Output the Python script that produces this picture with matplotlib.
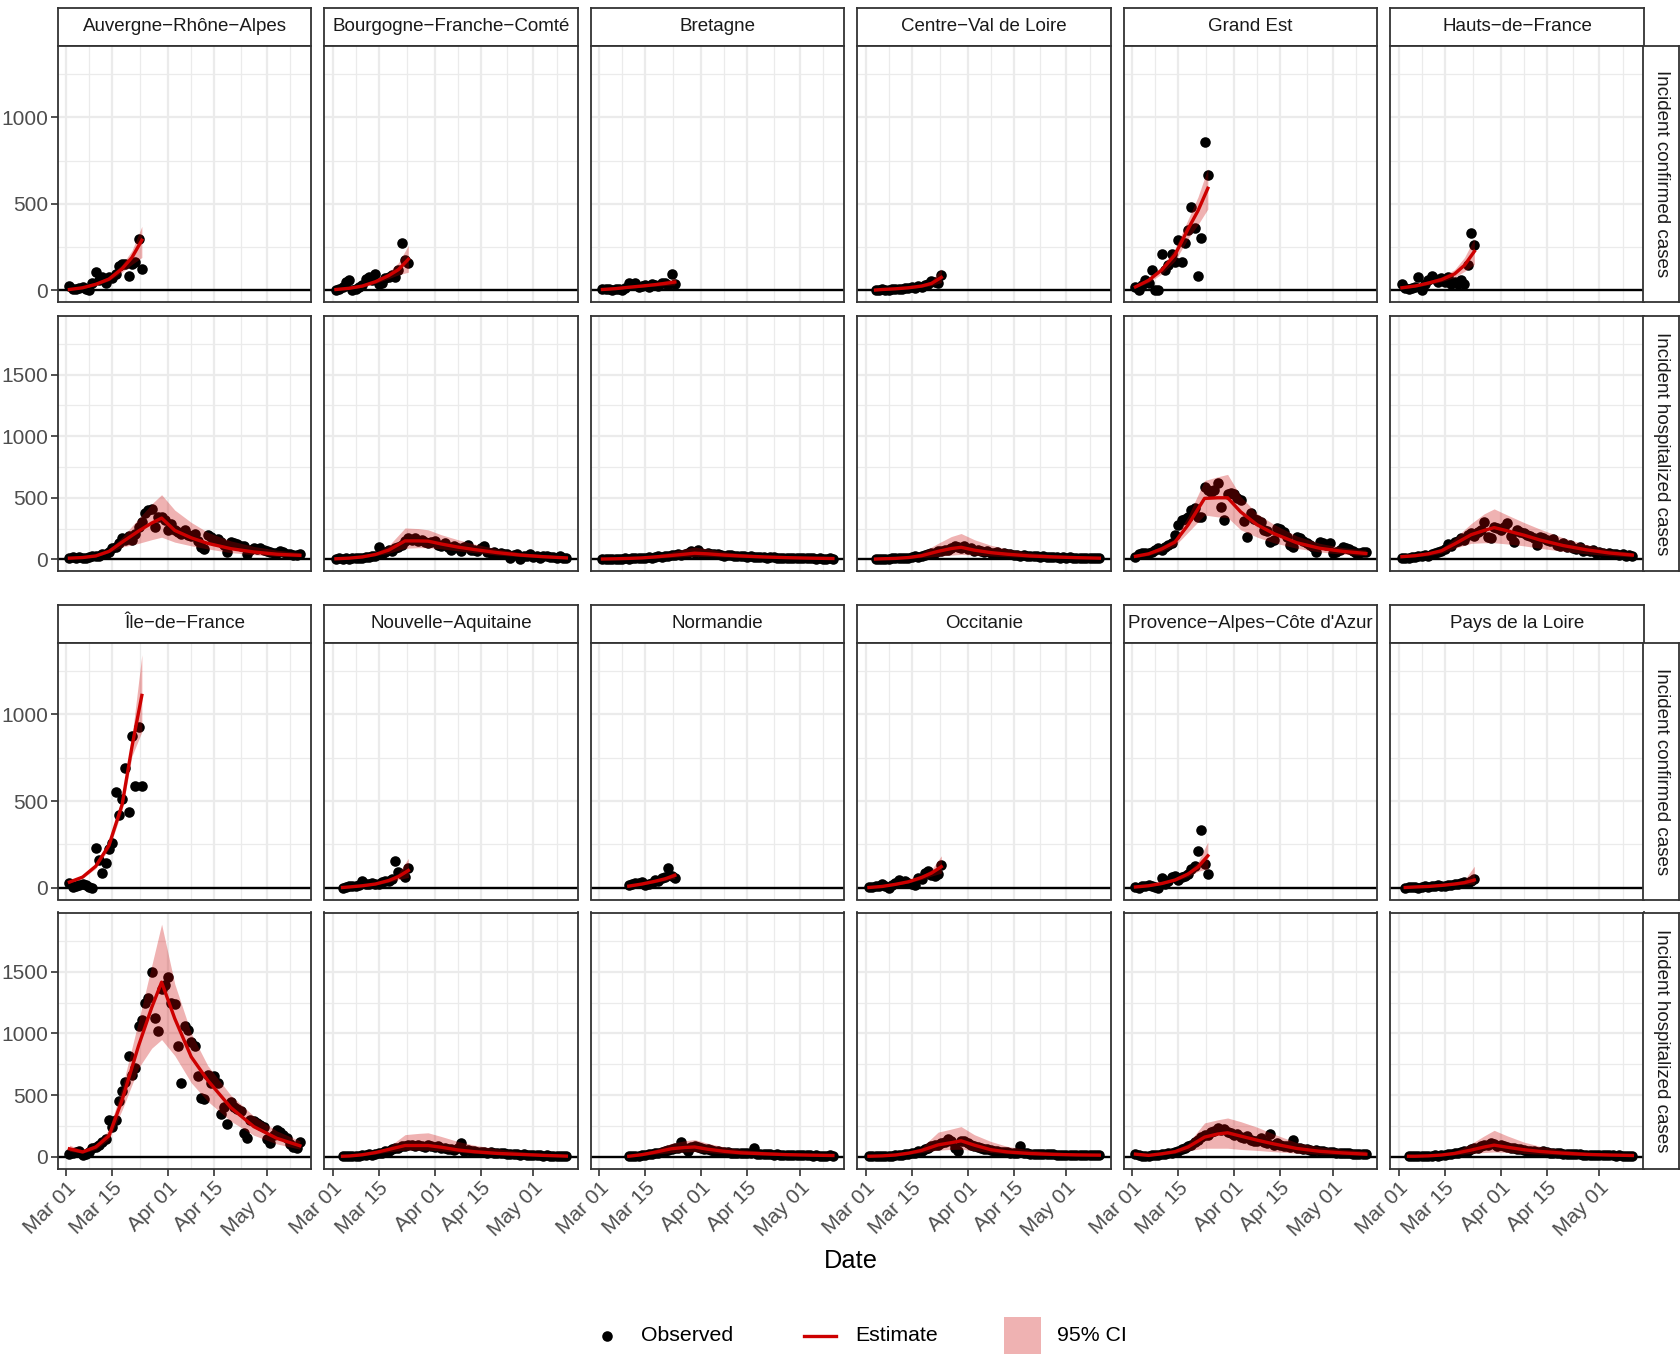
import numpy as np
import matplotlib
matplotlib.use("Agg")
import matplotlib.pyplot as plt
import matplotlib.dates as mdates
from matplotlib.patches import Rectangle
from matplotlib.lines import Line2D

plt.rcParams['font.family'] = ['Liberation Sans', 'DejaVu Sans']

# ---------------------------------------------------------------- data
ORIGIN = '2020-03-01'                      # day 0 of the day offsets below
CONF_KNOTS = [1, 5, 9, 13, 17, 20, 23]     # days of the confirmed-case estimate knots
HOSP_KNOTS = [1, 5, 9, 13, 17, 22, 26, 29, 33, 38, 43, 50, 57, 64, 71]
X_TICKS = ['2020-03-01', '2020-03-15', '2020-04-01', '2020-04-15', '2020-05-01']
X_MINOR = ['2020-03-08', '2020-03-23T12:00', '2020-04-08', '2020-04-23', '2020-05-08']
CONF_YTICKS = [0, 500, 1000]
CONF_YMINOR = [250, 750, 1250]
HOSP_YTICKS = [0, 500, 1000, 1500]
HOSP_YMINOR = [250, 750, 1250, 1750]
ROW_LABELS = ['Incident confirmed cases', 'Incident hospitalized cases']
LEGEND_LABELS = ['Observed', 'Estimate', '95% CI']
X_TITLE = 'Date'

REGION_NAMES = ['Auvergne−Rhône−Alpes', 'Bourgogne−Franche−Comté', 'Bretagne',
                'Centre−Val de Loire', 'Grand Est', 'Hauts−de−France',
                'Île−de−France', 'Nouvelle−Aquitaine', 'Normandie',
                'Occitanie', "Provence−Alpes−Côte d'Azur", 'Pays de la Loire']

# --- Auvergne-Rhône-Alpes
ARA_CONF_START = 1
ARA_CONF = [25, 5, 10, 15, 22, 5, 0, 40, 106, 60, 80, 40, 75, 70, 92, 140, 150, 155, 85, 155, 165, 297, 125]
ARA_CONF_EST = [5, 15, 35, 65, 125, 190, 290]
ARA_CONF_LO = [2, 10, 28, 55, 105, 150, 190]
ARA_CONF_HI = [10, 22, 45, 80, 150, 230, 370]
ARA_HOSP_START = 1
ARA_HOSP = [15, 20, 12, 18, 10, 15, 20, 25, 30, 28,
            40, 45, 60, 95, 100, 130, 177, 160, 190, 155,
            210, 260, 305, 373, 400, 408, 264, 346, 346, 318,
            237, 291, 240, 223, 210, 237, 200, 188, 210, 150,
            101, 87, 196, 180, 160, 169, 140, 120, 60, 142,
            135, 128, 106, 110, 46, 80, 95, 87, 90, 79,
            70, 60, 55, 52, 68, 60, 46, 40, 33, 38, 41]
ARA_HOSP_EST = [10, 15, 28, 65, 140, 230, 295, 335, 235, 175, 130, 87, 60, 42, 33]
ARA_HOSP_LO = [5, 10, 20, 55, 100, 130, 160, 180, 140, 110, 85, 55, 38, 25, 20]
ARA_HOSP_HI = [15, 20, 35, 80, 180, 330, 450, 525, 400, 300, 220, 150, 105, 75, 55]

# --- Bourgogne-Franche-Comté
BFC_CONF_START = 1
BFC_CONF = [4, 5, 20, 48, 58, 0, 10, 20, 29, 68, 77, 58, 93, 39, 42, 70, 80, 90, 80, 120, 274, 175, 160]
BFC_CONF_EST = [5, 12, 25, 50, 85, 120, 180]
BFC_CONF_LO = [2, 8, 18, 40, 68, 90, 105]
BFC_CONF_HI = [10, 18, 32, 62, 105, 160, 260]
BFC_HOSP_START = 1
BFC_HOSP = [5, 8, 3, 10, 6, 12, 8, 15, 10, 18,
            20, 25, 30, 100, 45, 60, 80, 70, 95, 100,
            120, 150, 170, 160, 175, 150, 155, 140, 130, 145,
            150, 120, 110, 130, 100, 80, 110, 90, 70, 100,
            120, 80, 75, 70, 90, 106, 60, 55, 60, 40,
            50, 45, 40, 10, 35, 40, 0, 30, 25, 40,
            20, 30, 15, 30, 25, 20, 20, 15, 25, 10, 15]
BFC_HOSP_EST = [5, 10, 20, 40, 75, 150, 150, 148, 125, 100, 80, 55, 35, 22, 12]
BFC_HOSP_LO = [2, 5, 12, 30, 50, 90, 95, 95, 85, 70, 55, 35, 22, 12, 6]
BFC_HOSP_HI = [10, 15, 30, 55, 110, 255, 250, 240, 200, 160, 125, 85, 55, 38, 25]

# --- Bretagne
BRE_CONF_START = 1
BRE_CONF = [10, 8, 5, 0, 5, 8, 2, 15, 40, 30, 45, 20, 25, 30, 20, 35, 30, 25, 40, 45, 30, 92, 35]
BRE_CONF_EST = [5, 10, 18, 25, 33, 40, 48]
BRE_CONF_LO = [2, 6, 12, 18, 24, 28, 32]
BRE_CONF_HI = [10, 15, 25, 35, 45, 55, 70]
BRE_HOSP_START = 1
BRE_HOSP = [2, 5, 3, 4, 6, 5, 3, 8, 6, 10,
            8, 12, 10, 15, 18, 14, 22, 25, 20, 28,
            30, 35, 32, 40, 38, 45, 50, 70, 48, 75,
            52, 45, 50, 42, 40, 45, 35, 30, 38, 32,
            28, 30, 25, 28, 22, 25, 20, 18, 22, 20,
            15, 18, 16, 12, 15, 14, 10, 12, 15, 10,
            8, 12, 9, 10, 8, 6, 9, 7, 5, 8, 6]
BRE_HOSP_EST = [3, 5, 8, 12, 20, 32, 42, 50, 45, 35, 28, 20, 14, 10, 7]
BRE_HOSP_LO = [1, 2, 4, 7, 10, 16, 22, 26, 24, 19, 15, 10, 7, 5, 3]
BRE_HOSP_HI = [6, 8, 12, 18, 35, 60, 85, 100, 85, 62, 48, 32, 22, 16, 12]

# --- Centre-Val de Loire
CVL_CONF_START = 3
CVL_CONF = [0, 2, 5, 0, 3, 5, 8, 10, 10, 12, 15, 20, 15, 25, 20, 30, 35, 55, 50, 40, 87]
CVL_CONF_EST = [2, 5, 9, 15, 25, 40, 75]
CVL_CONF_LO = [0, 2, 5, 10, 18, 28, 45]
CVL_CONF_HI = [4, 8, 13, 22, 35, 55, 125]
CVL_HOSP_START = 3
CVL_HOSP = [2, 4, 3, 6, 5, 8, 10, 8,
            12, 15, 14, 20, 25, 22, 30, 35, 40, 50,
            55, 70, 65, 80, 75, 95, 110, 100, 90, 105,
            85, 95, 70, 80, 65, 60, 70, 55, 50, 60,
            45, 50, 40, 42, 35, 38, 30, 35, 28, 30,
            25, 28, 22, 25, 20, 22, 18, 20, 15, 18,
            15, 16, 12, 14, 12, 10, 13, 10, 12, 9, 10]
CVL_HOSP_EST = [3, 5, 8, 15, 30, 65, 88, 98, 75, 55, 42, 28, 20, 14, 10]
CVL_HOSP_LO = [1, 2, 4, 8, 15, 25, 35, 40, 35, 28, 22, 15, 10, 7, 5]
CVL_HOSP_HI = [6, 8, 14, 25, 55, 130, 185, 210, 160, 115, 85, 55, 38, 28, 20]

# --- Grand Est
GES_CONF_START = 1
GES_CONF = [19, 0, 30, 62, 40, 116, 0, 0, 212, 120, 145, 212, 164, 293, 164, 274, 347, 479, 363, 81, 305, 859, 666]
GES_CONF_EST = [20, 58, 118, 205, 355, 460, 590]
GES_CONF_LO = [15, 45, 95, 170, 300, 380, 470]
GES_CONF_HI = [28, 72, 140, 240, 410, 540, 705]
GES_HOSP_START = 1
GES_HOSP = [22, 40, 49, 54, 49, 60, 75, 89, 80, 97,
            120, 135, 197, 278, 319, 330, 346, 400, 414, 346,
            346, 589, 562, 549, 562, 616, 427, 319, 530, 535,
            530, 500, 481, 314, 184, 378, 324, 319, 300, 238,
            230, 143, 157, 251, 243, 224, 184, 116, 103, 184,
            170, 151, 135, 120, 103, 62, 143, 130, 120, 130,
            49, 62, 80, 103, 89, 81, 70, 49, 55, 62, 62]
GES_HOSP_EST = [25, 45, 85, 140, 280, 495, 500, 500, 385, 280, 210, 135, 90, 65, 48]
GES_HOSP_LO = [15, 32, 65, 110, 220, 360, 345, 340, 240, 180, 135, 90, 60, 42, 30]
GES_HOSP_HI = [35, 60, 110, 170, 350, 640, 670, 690, 510, 370, 285, 190, 130, 95, 75]

# --- Hauts-de-France
HDF_CONF_START = 1
HDF_CONF = [35, 15, 10, 12, 20, 77, 0, 39, 58, 85, 68, 48, 73, 48, 77, 35, 48, 35, 58, 35, 145, 334, 260]
HDF_CONF_EST = [15, 25, 42, 62, 95, 145, 225]
HDF_CONF_LO = [10, 18, 32, 50, 75, 110, 150]
HDF_CONF_HI = [20, 32, 55, 78, 120, 190, 300]
HDF_HOSP_START = 1
HDF_HOSP = [13, 13, 15, 22, 20, 25, 30, 35, 28, 45,
            50, 60, 70, 85, 124, 110, 140, 151, 170, 160,
            197, 216, 189, 220, 240, 305, 178, 170, 265, 251,
            240, 260, 292, 189, 143, 238, 224, 211, 200, 190,
            170, 116, 184, 175, 160, 150, 165, 120, 110, 130,
            100, 115, 95, 85, 100, 70, 80, 65, 75, 55,
            60, 50, 45, 55, 40, 45, 35, 40, 25, 35, 30]
HDF_HOSP_EST = [22, 30, 45, 70, 125, 200, 235, 258, 232, 197, 157, 112, 78, 52, 35]
HDF_HOSP_LO = [15, 20, 30, 50, 90, 130, 135, 135, 125, 110, 90, 65, 45, 30, 20]
HDF_HOSP_HI = [30, 38, 55, 90, 170, 290, 370, 410, 360, 300, 245, 175, 120, 80, 55]

# --- Île-de-France
IDF_CONF_START = 1
IDF_CONF = [27, 4, 10, 15, 23, 14, 4, 0, 232, 162, 85, 143, 226, 259, 554, 419, 515, 689, 436, 876, 587, 927, 587]
IDF_CONF_EST = [33, 62, 125, 245, 480, 815, 1110]
IDF_CONF_LO = [28, 55, 112, 225, 445, 760, 900]
IDF_CONF_HI = [38, 70, 138, 265, 515, 870, 1345]
IDF_HOSP_START = 1
IDF_HOSP = [27, 30, 40, 49, 14, 27, 40, 68, 81, 95,
            122, 141, 298, 244, 298, 456, 537, 610, 819, 664,
            719, 1058, 1112, 1248, 1288, 1497, 1126, 1017, 1356, 1389,
            1459, 1248, 1242, 900, 602, 1063, 1025, 928, 895, 651,
            475, 467, 664, 602, 656, 602, 347, 400, 266, 448,
            407, 385, 374, 190, 149, 298, 293, 271, 258, 240,
            141, 114, 176, 217, 203, 176, 150, 108, 81, 68, 122]
IDF_HOSP_EST = [65, 40, 80, 170, 460, 900, 1210, 1415, 1120, 810, 620, 400, 245, 150, 90]
IDF_HOSP_LO = [45, 30, 60, 140, 380, 720, 880, 950, 820, 600, 450, 290, 175, 105, 62]
IDF_HOSP_HI = [95, 55, 100, 220, 560, 1100, 1550, 1885, 1400, 1000, 740, 500, 330, 210, 130]

# --- Nouvelle-Aquitaine
NAQ_CONF_START = 3
NAQ_CONF = [0, 5, 8, 8, 10, 15, 42, 23, 25, 27, 20, 23, 33, 42, 40, 52, 154, 91, 80, 62, 112]
NAQ_CONF_EST = [2, 5, 12, 22, 42, 65, 100]
NAQ_CONF_LO = [0, 2, 8, 16, 32, 48, 60]
NAQ_CONF_HI = [4, 8, 16, 28, 52, 85, 170]
NAQ_HOSP_START = 3
NAQ_HOSP = [3, 5, 4, 6, 8, 10, 15, 12,
            20, 18, 25, 30, 35, 45, 50, 60, 70, 75,
            85, 90, 100, 95, 85, 100, 90, 80, 95, 85,
            80, 90, 70, 75, 65, 60, 55, 70, 113, 50,
            55, 45, 48, 40, 42, 38, 35, 40, 30, 32,
            28, 30, 25, 22, 25, 20, 18, 20, 15, 18,
            14, 15, 12, 10, 12, 9, 10, 8, 9, 7, 6]
NAQ_HOSP_EST = [5, 7, 17, 35, 60, 92, 92, 92, 78, 56, 42, 28, 20, 12, 6]
NAQ_HOSP_LO = [2, 3, 10, 22, 40, 55, 55, 55, 48, 38, 28, 18, 12, 7, 4]
NAQ_HOSP_HI = [8, 10, 22, 40, 80, 180, 190, 195, 165, 125, 95, 65, 42, 28, 18]

# --- Normandie
NOR_CONF_START = 9
NOR_CONF = [19, 23, 29, 27, 35, 19, 23, 30, 48, 40, 54, 60, 116, 68, 54]
NOR_CONF_EST = [10, 10, 10, 22, 38, 52, 72]
NOR_CONF_LO = [6, 6, 6, 16, 30, 42, 55]
NOR_CONF_HI = [14, 14, 14, 28, 46, 62, 92]
NOR_HOSP_START = 9
NOR_HOSP = [5, 6,
            8, 10, 12, 15, 20, 22, 30, 35, 42, 50,
            55, 62, 70, 75, 122, 68, 49, 80, 85, 78,
            70, 65, 60, 58, 50, 45, 42, 40, 38, 35,
            33, 30, 32, 28, 30, 35, 68, 25, 22, 24,
            20, 22, 18, 20, 16, 18, 15, 17, 14, 15,
            13, 14, 12, 13, 11, 12, 10, 11, 10, 12, 9]
NOR_HOSP_EST = [5, 5, 5, 18, 38, 66, 76, 80, 62, 45, 33, 25, 18, 14, 11]
NOR_HOSP_LO = [2, 2, 2, 10, 22, 35, 40, 42, 35, 26, 20, 14, 10, 7, 5]
NOR_HOSP_HI = [8, 8, 8, 28, 60, 110, 130, 140, 110, 80, 60, 45, 32, 24, 18]

# --- Occitanie
OCC_CONF_START = 1
OCC_CONF = [4, 4, 8, 10, 23, 12, 0, 15, 29, 48, 35, 42, 30, 23, 15, 58, 50, 87, 100, 75, 68, 77, 130]
OCC_CONF_EST = [2, 8, 20, 35, 60, 85, 122]
OCC_CONF_LO = [0, 5, 15, 28, 48, 68, 85]
OCC_CONF_HI = [4, 12, 25, 42, 72, 105, 185]
OCC_HOSP_START = 1
OCC_HOSP = [3, 5, 4, 6, 5, 8, 7, 10, 12, 15,
            18, 20, 25, 30, 35, 45, 50, 60, 70, 85,
            95, 100, 110, 120, 141, 130, 68, 49, 125, 130,
            110, 100, 90, 80, 70, 65, 60, 55, 50, 45,
            42, 40, 38, 35, 32, 35, 87, 30, 28, 27,
            25, 24, 22, 23, 20, 21, 20, 18, 19, 17,
            16, 17, 15, 16, 14, 15, 13, 14, 13, 12, 14]
OCC_HOSP_EST = [5, 8, 15, 30, 52, 97, 115, 130, 95, 58, 40, 27, 20, 16, 14]
OCC_HOSP_LO = [2, 4, 9, 20, 35, 55, 60, 62, 50, 35, 25, 17, 12, 9, 7]
OCC_HOSP_HI = [8, 12, 22, 42, 75, 200, 225, 245, 180, 125, 85, 55, 40, 30, 25]

# --- Provence-Alpes-Côte d'Azur
PAC_CONF_START = 1
PAC_CONF = [4, 0, 8, 10, 16, 12, 5, 0, 54, 23, 40, 62, 68, 43, 62, 70, 82, 107, 126, 214, 331, 136, 82]
PAC_CONF_EST = [5, 12, 25, 45, 80, 120, 185]
PAC_CONF_LO = [2, 8, 20, 38, 65, 95, 110]
PAC_CONF_HI = [8, 16, 30, 52, 95, 150, 265]
PAC_HOSP_START = 1
PAC_HOSP = [22, 15, 8, 5, 10, 12, 15, 18, 20, 25,
            30, 35, 40, 50, 60, 75, 85, 100, 120, 140,
            160, 175, 180, 200, 210, 230, 216, 222, 200, 190,
            176, 185, 160, 150, 170, 140, 130, 125, 150, 120,
            110, 189, 100, 115, 95, 90, 85, 80, 135, 70,
            75, 60, 65, 55, 50, 52, 45, 48, 40, 42,
            38, 35, 33, 30, 32, 28, 26, 25, 24, 22, 22]
PAC_HOSP_EST = [22, 12, 25, 42, 80, 160, 185, 195, 168, 135, 105, 68, 45, 32, 22]
PAC_HOSP_LO = [12, 7, 15, 28, 50, 70, 70, 70, 60, 52, 42, 30, 22, 16, 12]
PAC_HOSP_HI = [30, 18, 35, 58, 110, 275, 300, 315, 285, 240, 185, 115, 80, 60, 48]

# --- Pays de la Loire
PDL_CONF_START = 2
PDL_CONF = [0, 2, 5, 3, 0, 5, 8, 5, 10, 8, 15, 12, 10, 18, 15, 20, 25, 30, 35, 28, 40, 50]
PDL_CONF_EST = [2, 5, 8, 14, 22, 30, 45]
PDL_CONF_LO = [0, 2, 5, 10, 16, 20, 22]
PDL_CONF_HI = [4, 8, 12, 19, 30, 45, 125]
PDL_HOSP_START = 3
PDL_HOSP = [3, 4, 5, 4, 6, 8, 7, 10,
            12, 10, 15, 18, 20, 22, 28, 32, 40, 45,
            50, 60, 70, 75, 85, 100, 95, 110, 105, 90,
            95, 85, 80, 75, 70, 65, 60, 55, 50, 48,
            45, 42, 40, 50, 38, 35, 32, 30, 28, 27,
            25, 24, 22, 20, 21, 19, 18, 17, 16, 15,
            14, 15, 13, 12, 13, 11, 12, 10, 11, 10, 11]
PDL_HOSP_EST = [5, 5, 8, 15, 28, 55, 80, 95, 78, 58, 44, 30, 20, 15, 11]
PDL_HOSP_LO = [2, 2, 4, 9, 16, 28, 35, 40, 36, 28, 22, 15, 10, 7, 5]
PDL_HOSP_HI = [8, 8, 12, 22, 45, 105, 170, 215, 170, 120, 85, 55, 38, 28, 20]

# table built from the named arrays above (facet order)
REGIONS = [
    (REGION_NAMES[0], (ARA_CONF_START, ARA_CONF, ARA_CONF_EST, ARA_CONF_LO, ARA_CONF_HI),
     (ARA_HOSP_START, ARA_HOSP, ARA_HOSP_EST, ARA_HOSP_LO, ARA_HOSP_HI)),
    (REGION_NAMES[1], (BFC_CONF_START, BFC_CONF, BFC_CONF_EST, BFC_CONF_LO, BFC_CONF_HI),
     (BFC_HOSP_START, BFC_HOSP, BFC_HOSP_EST, BFC_HOSP_LO, BFC_HOSP_HI)),
    (REGION_NAMES[2], (BRE_CONF_START, BRE_CONF, BRE_CONF_EST, BRE_CONF_LO, BRE_CONF_HI),
     (BRE_HOSP_START, BRE_HOSP, BRE_HOSP_EST, BRE_HOSP_LO, BRE_HOSP_HI)),
    (REGION_NAMES[3], (CVL_CONF_START, CVL_CONF, CVL_CONF_EST, CVL_CONF_LO, CVL_CONF_HI),
     (CVL_HOSP_START, CVL_HOSP, CVL_HOSP_EST, CVL_HOSP_LO, CVL_HOSP_HI)),
    (REGION_NAMES[4], (GES_CONF_START, GES_CONF, GES_CONF_EST, GES_CONF_LO, GES_CONF_HI),
     (GES_HOSP_START, GES_HOSP, GES_HOSP_EST, GES_HOSP_LO, GES_HOSP_HI)),
    (REGION_NAMES[5], (HDF_CONF_START, HDF_CONF, HDF_CONF_EST, HDF_CONF_LO, HDF_CONF_HI),
     (HDF_HOSP_START, HDF_HOSP, HDF_HOSP_EST, HDF_HOSP_LO, HDF_HOSP_HI)),
    (REGION_NAMES[6], (IDF_CONF_START, IDF_CONF, IDF_CONF_EST, IDF_CONF_LO, IDF_CONF_HI),
     (IDF_HOSP_START, IDF_HOSP, IDF_HOSP_EST, IDF_HOSP_LO, IDF_HOSP_HI)),
    (REGION_NAMES[7], (NAQ_CONF_START, NAQ_CONF, NAQ_CONF_EST, NAQ_CONF_LO, NAQ_CONF_HI),
     (NAQ_HOSP_START, NAQ_HOSP, NAQ_HOSP_EST, NAQ_HOSP_LO, NAQ_HOSP_HI)),
    (REGION_NAMES[8], (NOR_CONF_START, NOR_CONF, NOR_CONF_EST, NOR_CONF_LO, NOR_CONF_HI),
     (NOR_HOSP_START, NOR_HOSP, NOR_HOSP_EST, NOR_HOSP_LO, NOR_HOSP_HI)),
    (REGION_NAMES[9], (OCC_CONF_START, OCC_CONF, OCC_CONF_EST, OCC_CONF_LO, OCC_CONF_HI),
     (OCC_HOSP_START, OCC_HOSP, OCC_HOSP_EST, OCC_HOSP_LO, OCC_HOSP_HI)),
    (REGION_NAMES[10], (PAC_CONF_START, PAC_CONF, PAC_CONF_EST, PAC_CONF_LO, PAC_CONF_HI),
     (PAC_HOSP_START, PAC_HOSP, PAC_HOSP_EST, PAC_HOSP_LO, PAC_HOSP_HI)),
    (REGION_NAMES[11], (PDL_CONF_START, PDL_CONF, PDL_CONF_EST, PDL_CONF_LO, PDL_CONF_HI),
     (PDL_HOSP_START, PDL_HOSP, PDL_HOSP_EST, PDL_HOSP_LO, PDL_HOSP_HI)),
]

# ---------------------------------------------------------------- style
RED = '#CD0000'
GRID = '#EBEBEB'
BORDER = '#333333'
TICKCOL = '#4D4D4D'

W, H = 1681, 1355
fig = plt.figure(figsize=(W / 100, H / 100), dpi=100)


def box(x0, y0, x1, y1):
    """pixel box (top-left origin) -> figure fraction rect"""
    return [x0 / W, 1 - y1 / H, (x1 - x0) / W, (y1 - y0) / H]


X0 = mdates.date2num(np.datetime64(ORIGIN))
xt = [mdates.date2num(np.datetime64(d)) for d in X_TICKS]
xm = [mdates.date2num(np.datetime64(d)) for d in X_MINOR]

# x limits: data extent with 5% expansion (like ggplot)
all_days = []
for _, c, h in REGIONS:
    all_days += [c[0], c[0] + len(c[1]) - 1, h[0], h[0] + len(h[1]) - 1]
dmin, dmax = min(all_days), max(all_days)
pad = 0.05 * (dmax - dmin)
XL = (X0 + dmin - pad, X0 + dmax + pad)


def ylim_of(idx):
    mx = 0
    for _, c, h in REGIONS:
        s = (c, h)[idx]
        mx = max(mx, max(s[1]), max(s[4]))
    return (-0.05 * mx, 1.05 * mx)


YL = [ylim_of(0), ylim_of(1)]

COL_X0 = 57.9
COL_STEP = 266.5
PANEL_W = 253.5
STRIP_R = (1643.5, 1679.0)
BLOCKS = [
    dict(strip=(7.5, 46.0), rows=[(46.0, 302.0), (315.5, 571.0)]),
    dict(strip=(604.7, 643.0), rows=[(643.0, 899.5), (912.5, 1168.5)]),
]

MS = 7.6      # observed point size
LW = 2.4      # estimate line width


def style_spines(ax):
    for s in ax.spines.values():
        s.set_color(BORDER)
        s.set_linewidth(1.3)


def draw_panel(ax, series, knots, row, show_y, show_x):
    start, obs, est, lo, hi = series
    days = start + np.arange(len(obs))
    kd = np.maximum(np.array(knots), start)
    ax.set_xlim(XL)
    ax.set_ylim(YL[row])
    ax.set_xticks(xt)
    ax.set_xticks(xm, minor=True)
    ax.set_yticks(CONF_YTICKS if row == 0 else HOSP_YTICKS)
    ax.set_yticks(CONF_YMINOR if row == 0 else HOSP_YMINOR, minor=True)
    ax.set_axisbelow(True)
    ax.grid(which='major', color=GRID, lw=1.6)
    ax.grid(which='minor', color=GRID, lw=0.9)
    ax.axhline(0, color='black', lw=1.7, zorder=1.5)
    ax.plot(X0 + days, obs, 'o', color='black', ms=MS, mew=0, zorder=2)
    ax.fill_between(X0 + kd, lo, hi, color=RED, alpha=0.3, lw=0, zorder=3)
    ax.plot(X0 + kd, est, color=RED, lw=LW, zorder=4)
    ax.xaxis.set_major_formatter(mdates.DateFormatter('%b %d'))
    ax.tick_params(which='minor', length=0)
    ax.tick_params(axis='y', which='major', length=5 if show_y else 0, width=1.2,
                   color=BORDER, labelsize=15, labelcolor=TICKCOL, pad=2,
                   labelleft=show_y)
    ax.tick_params(axis='x', which='major', length=5 if show_x else 0, width=1.2,
                   color=BORDER, labelsize=15, labelcolor=TICKCOL, pad=2,
                   labelbottom=show_x)
    if show_x:
        for lab in ax.get_xticklabels():
            lab.set_rotation(45)
            lab.set_ha('right')
            lab.set_va('top')
            lab.set_rotation_mode('anchor')
    style_spines(ax)


def strip(rect, text, rotation=0):
    ax = fig.add_axes(rect)
    ax.set_xticks([])
    ax.set_yticks([])
    ax.set_facecolor('white')
    style_spines(ax)
    ax.text(0.5, 0.5, text, ha='center', va='center', fontsize=13.5,
            color='#1A1A1A', rotation=rotation, transform=ax.transAxes)
    return ax


for b, block in enumerate(BLOCKS):
    regs = REGIONS[6 * b: 6 * b + 6]
    for k, (name, conf, hosp) in enumerate(regs):
        x0 = COL_X0 + k * COL_STEP
        x1 = x0 + PANEL_W
        strip(box(x0, block['strip'][0], x1, block['strip'][1]), name)
        for r, (ya, yb) in enumerate(block['rows']):
            ax = fig.add_axes(box(x0, ya, x1, yb))
            series = conf if r == 0 else hosp
            knots = CONF_KNOTS if r == 0 else HOSP_KNOTS
            draw_panel(ax, series, knots, r, show_y=(k == 0), show_x=(b == 1 and r == 1))
    for r, (ya, yb) in enumerate(block['rows']):
        strip(box(STRIP_R[0], ya, STRIP_R[1], yb), ROW_LABELS[r], rotation=270)

# axis title
fig.text(850.7 / W, 1 - 1260.5 / H, X_TITLE, ha='center', va='center', fontsize=18.3, color='black')

# legend (drawn in pixel space on an overlay)
lg = fig.add_axes([0, 0, 1, 1], facecolor='none')
lg.set_xlim(0, W)
lg.set_ylim(H, 0)
lg.axis('off')
ly = 1335.5
lg.add_line(Line2D([607], [ly], marker='o', color='black', ms=MS, mew=0, ls='none'))
lg.text(641, ly, LEGEND_LABELS[0], ha='left', va='center', fontsize=15.3)
lg.add_line(Line2D([804, 836], [ly, ly], color=RED, lw=LW))
lg.text(855, ly, LEGEND_LABELS[1], ha='left', va='center', fontsize=15.3)
lg.add_patch(Rectangle((1004, ly - 18.5), 37, 37, facecolor=RED, alpha=0.3, lw=0))
lg.text(1057, ly, LEGEND_LABELS[2], ha='left', va='center', fontsize=15.3)

fig.savefig('out.png', dpi=100)
